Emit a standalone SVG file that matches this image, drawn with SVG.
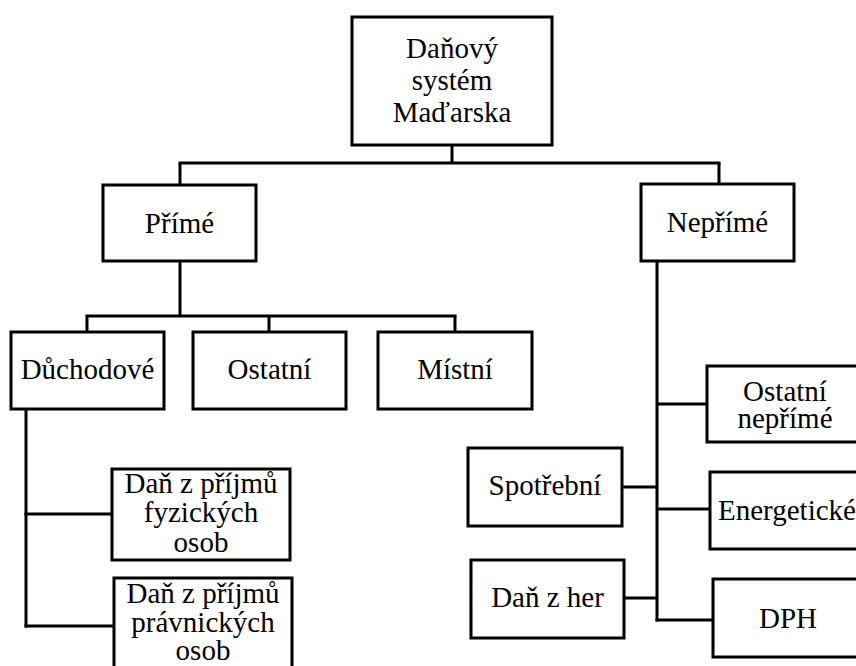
<svg xmlns="http://www.w3.org/2000/svg" width="856" height="666" viewBox="0 0 856 666" font-family="Liberation Serif, Times New Roman, serif">
<rect width="856" height="666" fill="#fff"/>
<g id="connectors" stroke="#000" stroke-width="3" fill="none">
<line x1="452" y1="145" x2="452" y2="163"/>
<line x1="178.5" y1="163" x2="720.5" y2="163"/>
<line x1="180" y1="163" x2="180" y2="185"/>
<line x1="719" y1="163" x2="719" y2="184"/>
<line x1="180" y1="261" x2="180" y2="316"/>
<line x1="85.5" y1="316" x2="456.5" y2="316"/>
<line x1="87" y1="316" x2="87" y2="332"/>
<line x1="269" y1="316" x2="269" y2="332"/>
<line x1="455" y1="316" x2="455" y2="332"/>
<line x1="26" y1="409" x2="26" y2="627.5"/>
<line x1="24.5" y1="514" x2="112" y2="514"/>
<line x1="24.5" y1="626" x2="114" y2="626"/>
<line x1="657" y1="261" x2="657" y2="621.5"/>
<line x1="657" y1="404" x2="707" y2="404"/>
<line x1="622" y1="487" x2="657" y2="487"/>
<line x1="657" y1="509" x2="710" y2="509"/>
<line x1="624" y1="598" x2="657" y2="598"/>
<line x1="655.5" y1="620" x2="713" y2="620"/>
</g>
<g id="root"><rect x="352" y="17" width="200" height="128" fill="#fff" stroke="#000" stroke-width="3"/><text x="452" y="58" font-family="Liberation Serif" font-size="29" text-anchor="middle">Daňový</text><text x="452" y="90" font-family="Liberation Serif" font-size="29" text-anchor="middle">systém</text><text x="452" y="122" font-family="Liberation Serif" font-size="29" text-anchor="middle">Maďarska</text></g>
<g id="prime"><rect x="103" y="185" width="153" height="76" fill="#fff" stroke="#000" stroke-width="3"/><text x="179.5" y="233" font-family="Liberation Serif" font-size="29" text-anchor="middle">Přímé</text></g>
<g id="neprime"><rect x="641" y="184" width="153" height="77" fill="#fff" stroke="#000" stroke-width="3"/><text x="717.5" y="232" font-family="Liberation Serif" font-size="29" text-anchor="middle">Nepřímé</text></g>
<g id="duchodove"><rect x="11" y="332" width="153" height="77" fill="#fff" stroke="#000" stroke-width="3"/><text x="87.5" y="379" font-family="Liberation Serif" font-size="29" text-anchor="middle">Důchodové</text></g>
<g id="ostatni"><rect x="193" y="332" width="153" height="77" fill="#fff" stroke="#000" stroke-width="3"/><text x="269.5" y="379" font-family="Liberation Serif" font-size="29" text-anchor="middle">Ostatní</text></g>
<g id="mistni"><rect x="378" y="332" width="154" height="77" fill="#fff" stroke="#000" stroke-width="3"/><text x="455" y="379" font-family="Liberation Serif" font-size="29" text-anchor="middle">Místní</text></g>
<g id="dpfo"><rect x="112" y="469" width="178" height="91" fill="#fff" stroke="#000" stroke-width="3"/><text x="201" y="493" font-family="Liberation Serif" font-size="29" text-anchor="middle">Daň z příjmů</text><text x="201" y="522" font-family="Liberation Serif" font-size="29" text-anchor="middle">fyzických</text><text x="201" y="552" font-family="Liberation Serif" font-size="29" text-anchor="middle">osob</text></g>
<g id="dppo"><rect x="114" y="578" width="178" height="120" fill="#fff" stroke="#000" stroke-width="3"/><text x="203" y="603" font-family="Liberation Serif" font-size="29" text-anchor="middle">Daň z příjmů</text><text x="203" y="632" font-family="Liberation Serif" font-size="29" text-anchor="middle">právnických</text><text x="203" y="660" font-family="Liberation Serif" font-size="29" text-anchor="middle">osob</text></g>
<g id="ostatni-neprime"><rect x="707" y="366" width="156" height="76" fill="#fff" stroke="#000" stroke-width="3"/><text x="785" y="401" font-family="Liberation Serif" font-size="29" text-anchor="middle">Ostatní</text><text x="785" y="428" font-family="Liberation Serif" font-size="29" text-anchor="middle">nepřímé</text></g>
<g id="spotrebni"><rect x="468" y="448" width="154" height="78" fill="#fff" stroke="#000" stroke-width="3"/><text x="545" y="495" font-family="Liberation Serif" font-size="29" text-anchor="middle">Spotřební</text></g>
<g id="energeticke"><rect x="710" y="472" width="156" height="77" fill="#fff" stroke="#000" stroke-width="3"/><text x="718" y="520" font-family="Liberation Serif" font-size="29">Energetické</text></g>
<g id="dan-z-her"><rect x="471" y="560" width="153" height="78" fill="#fff" stroke="#000" stroke-width="3"/><text x="547.5" y="607" font-family="Liberation Serif" font-size="29" text-anchor="middle">Daň z her</text></g>
<g id="dph"><rect x="713" y="579" width="156" height="78" fill="#fff" stroke="#000" stroke-width="3"/><text x="788" y="628" font-family="Liberation Serif" font-size="29" text-anchor="middle">DPH</text></g>
</svg>
